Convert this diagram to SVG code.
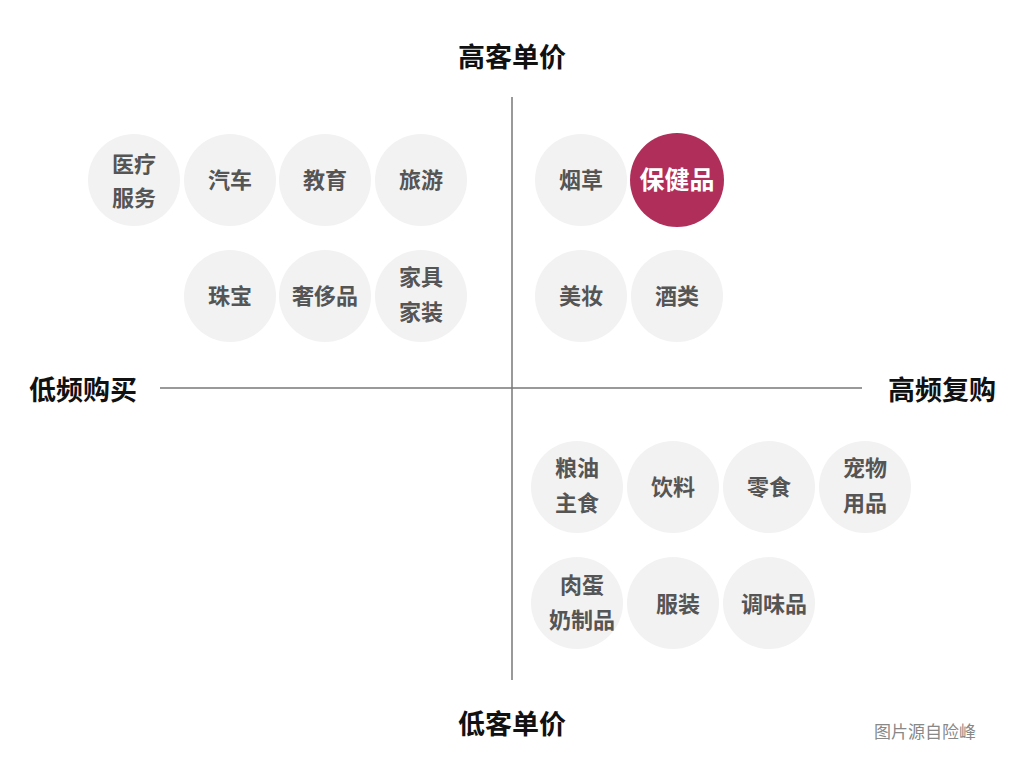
<svg xmlns="http://www.w3.org/2000/svg" width="1024" height="768" viewBox="0 0 1024 768">
<style>
.c{fill:#f3f2f2}
.t{font-family:"Noto Sans CJK SC",sans-serif;font-size:22px;font-weight:bold;fill:#555;text-anchor:middle}
.h{font-family:"Noto Sans CJK SC",sans-serif;font-size:27px;font-weight:bold;fill:#111;text-anchor:middle}
.ax{stroke:#777;stroke-width:1.5}
</style>
<rect width="1024" height="768" fill="#fff"/>
<g id="connectors">
<line class="ax" x1="512" y1="97" x2="512" y2="680"/>
<line class="ax" x1="160" y1="388" x2="862" y2="388"/>
</g>
<text class="h" x="512" y="67">高客单价</text>
<text class="h" x="512" y="734">低客单价</text>
<text class="h" x="83" y="400">低频购买</text>
<text class="h" x="942" y="400">高频复购</text>
<text x="925" y="738" style="font-family:'Noto Sans CJK SC',sans-serif;font-size:17px;fill:#888;text-anchor:middle">图片源自险峰</text>
<g id="n1"><circle class="c" cx="134" cy="180" r="46"/><text class="t" x="134" y="172">医疗</text><text class="t" x="134" y="206">服务</text></g>
<g id="n2"><circle class="c" cx="230" cy="180" r="46"/><text class="t" x="230" y="188">汽车</text></g>
<g id="n3"><circle class="c" cx="325" cy="180" r="46"/><text class="t" x="325" y="188">教育</text></g>
<g id="n4"><circle class="c" cx="421" cy="180" r="46"/><text class="t" x="421" y="188">旅游</text></g>
<g id="n5"><circle class="c" cx="230" cy="296" r="46"/><text class="t" x="230" y="304">珠宝</text></g>
<g id="n6"><circle class="c" cx="325" cy="296" r="46"/><text class="t" x="325" y="304">奢侈品</text></g>
<g id="n7"><circle class="c" cx="421" cy="296" r="46"/><text class="t" x="421" y="285">家具</text><text class="t" x="421" y="320">家装</text></g>
<g id="n8"><circle class="c" cx="581" cy="180" r="46"/><text class="t" x="581" y="188">烟草</text></g>
<g id="n9"><circle cx="677" cy="180" r="47" fill="#b02e5a"/><text class="t" x="677" y="189" style="fill:#fff;font-size:25px">保健品</text></g>
<g id="n10"><circle class="c" cx="581" cy="296" r="46"/><text class="t" x="581" y="304">美妆</text></g>
<g id="n11"><circle class="c" cx="677" cy="296" r="46"/><text class="t" x="677" y="304">酒类</text></g>
<g id="n12"><circle class="c" cx="577" cy="487" r="46"/><text class="t" x="577" y="476">粮油</text><text class="t" x="577" y="511">主食</text></g>
<g id="n13"><circle class="c" cx="673" cy="487" r="46"/><text class="t" x="673" y="495">饮料</text></g>
<g id="n14"><circle class="c" cx="769" cy="487" r="46"/><text class="t" x="769" y="495">零食</text></g>
<g id="n15"><circle class="c" cx="865" cy="487" r="46"/><text class="t" x="865" y="476">宠物</text><text class="t" x="865" y="511">用品</text></g>
<g id="n16"><circle class="c" cx="577" cy="603" r="46"/><text class="t" x="582" y="593">肉蛋</text><text class="t" x="582" y="628">奶制品</text></g>
<g id="n17"><circle class="c" cx="673" cy="603" r="46"/><text class="t" x="678" y="612">服装</text></g>
<g id="n18"><circle class="c" cx="769" cy="603" r="46"/><text class="t" x="774" y="612">调味品</text></g>
</svg>
